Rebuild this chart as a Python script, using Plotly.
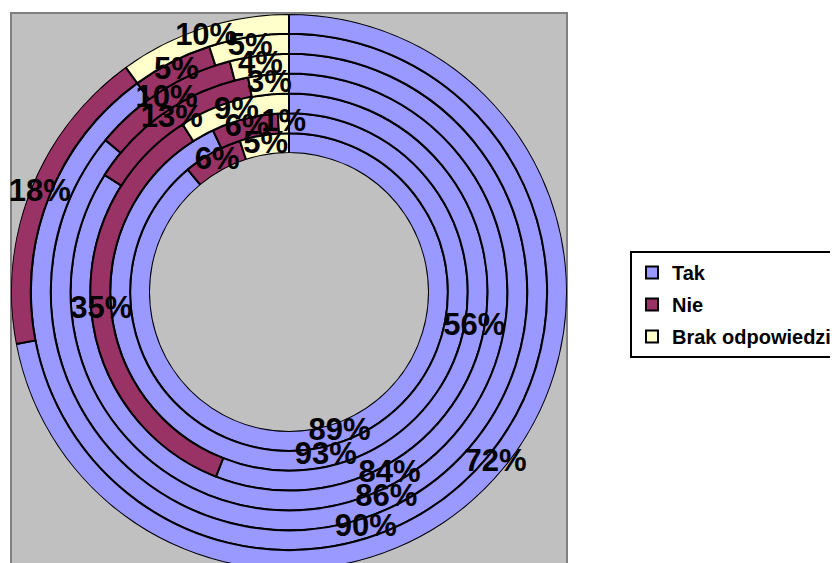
import plotly.graph_objects as go

# Rings from innermost to outermost
tak = [89, 93, 56, 84, 86, 90, 72]
nie = [6, 6, 35, 13, 10, 5, 18]
brak = [5, 1, 9, 3, 4, 5, 10]
series_names = ["Tak", "Nie", "Brak odpowiedzi"]
series_colors = ["#9999FF", "#993366", "#FFFFCC"]

series = [tak, nie, brak]
n_rings = len(tak)

fig = go.Figure()

# segment geometry derived from data (percent -> degrees)
starts = [0.0] * n_rings
label_r, label_t, label_txt = [], [], []
for name, vals, col in zip(series_names, series, series_colors):
    thetas, widths, bases, rs = [], [], [], []
    for i, v in enumerate(vals):
        mid = (starts[i] + v / 2) * 3.6
        thetas.append(mid)
        widths.append(v * 3.6)
        bases.append(i)
        rs.append(1)
        label_r.append(i + 0.5)
        label_t.append(mid)
        label_txt.append(f"{v}%")
        starts[i] += v
    fig.add_trace(go.Barpolar(
        name=name, theta=thetas, width=widths, base=bases, r=rs,
        marker=dict(color=col, line=dict(color="black", width=2)),
        legendgroup=name, hoverinfo="skip",
    ))

fig.add_trace(go.Scatterpolar(
    r=label_r, theta=label_t, text=label_txt, mode="text",
    textfont=dict(family="Arial, Liberation Sans", size=31, color="black", weight="bold"),
    showlegend=False, hoverinfo="skip",
))

W, H = 838, 563
# page body has an 8px margin; positions below are in figure pixels
fig.update_layout(
    width=W, height=H,
    margin=dict(l=0, r=0, t=0, b=0),
    paper_bgcolor="white",
    polar=dict(
        domain=dict(x=[3 / W, 559 / W], y=[1 - 562 / H, 1 - 6 / H]),
        hole=0.5,
        bgcolor="rgba(0,0,0,0)",
        barmode="overlay",
        radialaxis=dict(visible=False, range=[0, n_rings]),
        angularaxis=dict(visible=False, direction="clockwise", rotation=90),
    ),
    shapes=[dict(type="rect", xref="paper", yref="paper",
                 x0=3 / W, x1=559 / W, y0=-0.1, y1=1 - 5 / H,
                 fillcolor="#C0C0C0", line=dict(color="#808080", width=2),
                 layer="below")],
    legend=dict(
        x=622 / W, y=1 - 243 / H, xanchor="left", yanchor="top",
        bordercolor="black", borderwidth=2, bgcolor="white",
        font=dict(family="Arial, Liberation Sans", size=20, color="black", weight="bold"),
        traceorder="grouped", tracegroupgap=3,
    ),
    showlegend=True,
)

fig.write_html("out.html")
